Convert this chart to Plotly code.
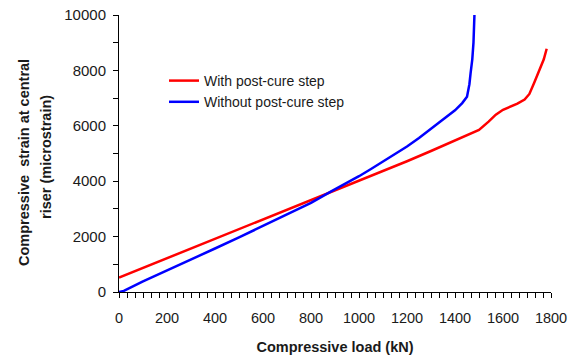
import plotly.graph_objects as go

# Data
red_load = [0, 100, 200, 300, 400, 500, 600, 700, 800, 900, 1000, 1100, 1200, 1300,
            1400, 1450, 1500, 1540, 1570, 1600, 1620, 1660, 1690, 1710, 1730, 1750,
            1770, 1782]
red_strain = [520, 870, 1215, 1565, 1910, 2260, 2610, 2955, 3305, 3650, 4000, 4360,
              4720, 5090, 5460, 5650, 5850, 6150, 6400, 6580, 6660, 6800, 6950, 7150,
              7550, 7950, 8400, 8780]

blue_load = [0, 20, 100, 200, 300, 400, 500, 600, 700, 800, 886, 950, 1000, 1050,
             1100, 1143, 1160, 1200, 1250, 1300, 1350, 1400, 1430, 1450, 1460, 1465,
             1472, 1477, 1479, 1481]
blue_strain = [0, 40, 380, 770, 1170, 1570, 1970, 2380, 2800, 3220, 3640, 3930,
               4180, 4440, 4700, 4950, 5030, 5250, 5560, 5880, 6230, 6560, 6820, 7050,
               7500, 7900, 8400, 9000, 9500, 10000]

series_names = ["With post-cure step", "Without post-cure step"]
x_title = "Compressive load (kN)"
y_title_lines = ["Compressive  strain at central", "riser (microstrain)"]

FONT = "Liberation Sans, Arial, sans-serif"

fig = go.Figure()
fig.add_trace(go.Scatter(x=red_load, y=red_strain, mode="lines", name=series_names[0],
                         line=dict(color="#FF0000", width=2.5)))
fig.add_trace(go.Scatter(x=blue_load, y=blue_strain, mode="lines", name=series_names[1],
                         line=dict(color="#0000FF", width=2.5)))

L, R, T, B = 119, 27, 15, 70
W, H = 578, 362
pw, ph = W - L - R, H - T - B

fig.update_layout(
    width=W, height=H,
    margin=dict(l=L, r=R, t=T, b=B, pad=0, autoexpand=False),
    paper_bgcolor="white", plot_bgcolor="white",
    font=dict(family=FONT, size=14, color="#1a1a1a"),
    showlegend=True,
    legend=dict(x=(164 - L) / pw, y=(292 - 65) / ph, xanchor="left", yanchor="top",
                bgcolor="rgba(0,0,0,0)", font=dict(size=14, color="#1a1a1a"),
                itemwidth=30, tracegroupgap=0),
    xaxis=dict(range=[0, 1800], tickmode="linear", tick0=0, dtick=200,
               automargin=False,
               showgrid=False, zeroline=False, showline=True, linecolor="black",
               linewidth=1, ticks="outside", ticklen=5, tickcolor="black",
               tickfont=dict(size=14.5), ticklabelstandoff=8,
               minor=dict(dtick=200 / 6, tick0=0, ticks="outside", ticklen=5,
                          tickcolor="black", showgrid=False),
               title=dict(text="<b>" + x_title + "</b>", font=dict(size=14.5), standoff=16)),
    yaxis=dict(range=[0, 10000], tickmode="linear", tick0=0, dtick=2000,
               tickformat="d", automargin=False,
               showgrid=False, zeroline=False, showline=True, linecolor="black",
               linewidth=1, ticks="outside", ticklen=5, tickcolor="black",
               tickfont=dict(size=15), ticklabelstandoff=4,
               minor=dict(dtick=1000, ticks="outside", ticklen=5, tickcolor="black",
                          showgrid=False)),
)

for txt, cx, cy in [(y_title_lines[0], 24, 163), (y_title_lines[1], 46, 157)]:
    fig.add_annotation(text="<b>" + txt + "</b>", textangle=-90,
                       xref="paper", yref="paper",
                       x=(cx - L) / pw, y=(292 - cy) / ph,
                       xanchor="center", yanchor="middle", showarrow=False,
                       font=dict(size=14.5, color="#1a1a1a", family=FONT))

fig.write_html("out.html")
